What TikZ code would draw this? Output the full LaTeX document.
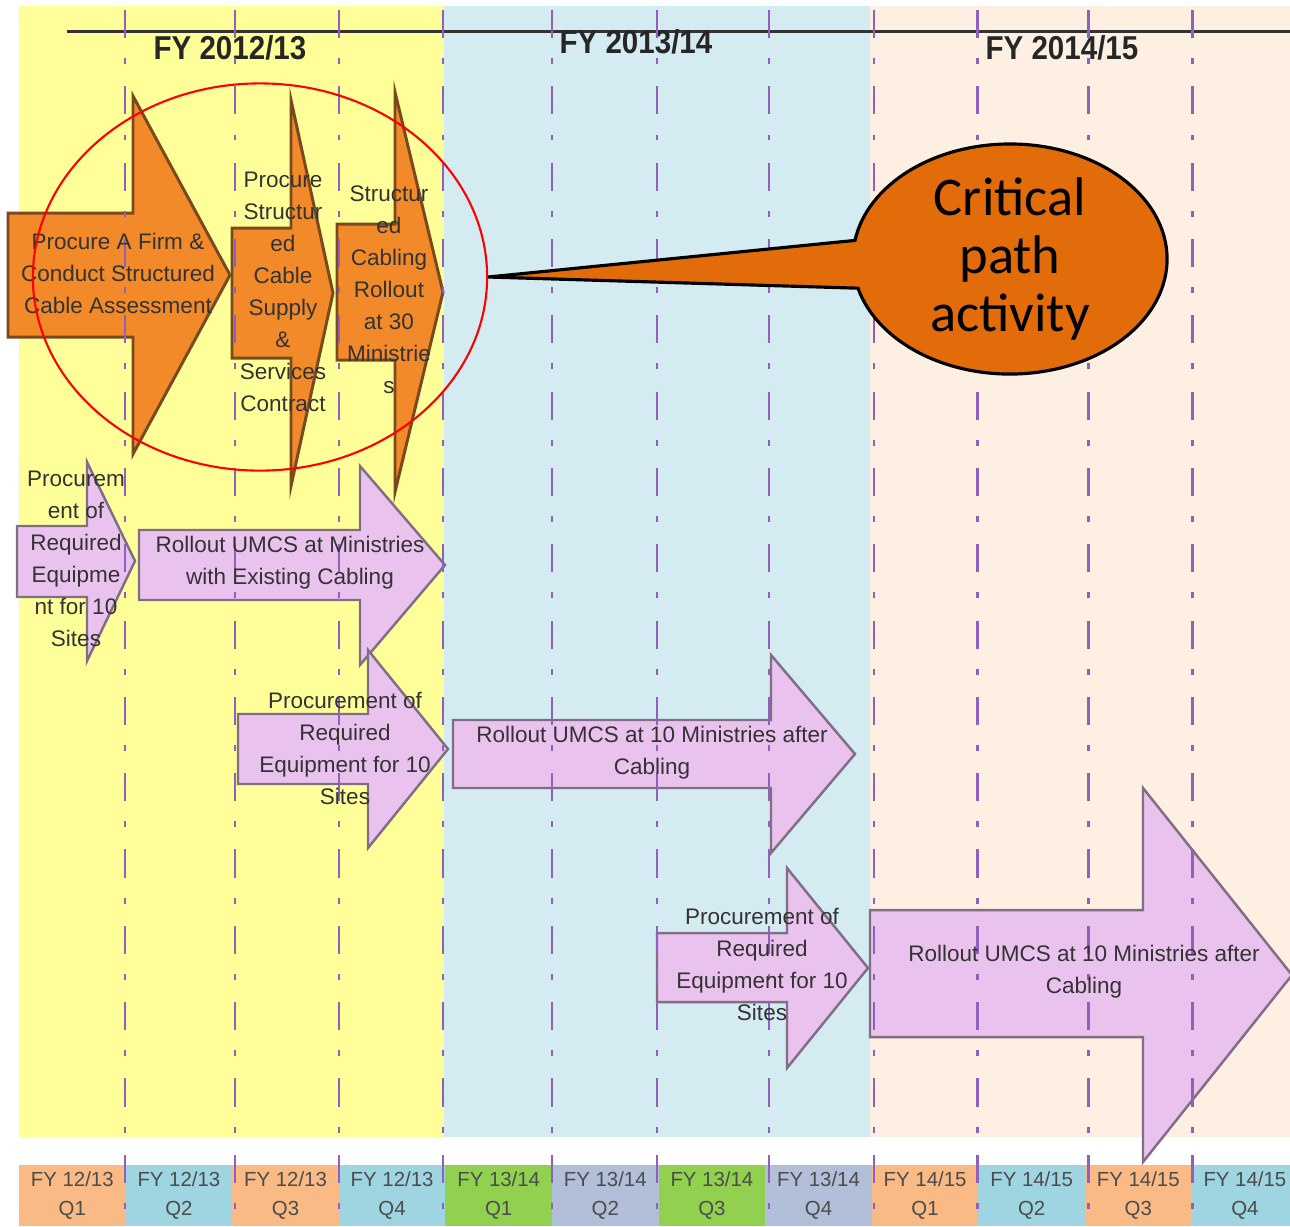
\documentclass[tikz,border=0pt]{standalone}
\usepackage{fontspec}
\setmainfont{Liberation Sans}
\newfontfamily\notefont{Carlito}
\usetikzlibrary{shapes.geometric,shapes.callouts}

\definecolor{fyyellow}{HTML}{FFFF99}
\definecolor{fyblue}{HTML}{D3EBF1}
\definecolor{fypeach}{HTML}{FDF0E3}
\definecolor{critorange}{HTML}{F28A2A}
\definecolor{critborder}{HTML}{7A4A1E}
\definecolor{noteorange}{HTML}{E36C0A}
\definecolor{umcspink}{HTML}{EAC2EE}
\definecolor{umcsborder}{HTML}{7F6E84}
\definecolor{qorange}{HTML}{F9BA85}
\definecolor{qblue}{HTML}{9FD4E1}
\definecolor{qgreen}{HTML}{92D050}
\definecolor{qgrey}{HTML}{B1BFD9}
\definecolor{qpurple}{HTML}{9160BD}
\definecolor{taskgrey}{HTML}{333333}

\tikzset{
	critarrow/.style={fill=critorange,draw=critborder,line width=0.85pt},
	umcsarrow/.style={fill=umcspink,draw=umcsborder,line width=0.7pt},
	tasktext/.style={align=center,inner sep=0pt,text=taskgrey,font=\fontsize{6.4}{9.1}\selectfont},
	fytitle/.style={inner sep=0pt,yscale=1.12,text=black!85,font=\bfseries\fontsize{8.4}{9}\selectfont},
	qbox/.style={minimum width=1.066cm,minimum height=0.61cm,inner sep=0pt,align=center,text=black!70,font=\fontsize{5.8}{8}\selectfont},
	qline/.style={draw=qpurple,line width=0.85pt,dash pattern=on 8pt off 5.7pt on 1.7pt off 6.3pt}
}

\begin{document}
\begin{tikzpicture}[x=0.01cm,y=-0.01cm]
	\useasboundingbox (0,0) rectangle (1290,1226);
	% fiscal year bands
	\fill[fyyellow] (19,6) rectangle (444,1137);
	\fill[fyblue] (444,6) rectangle (870,1137);
	\fill[fypeach] (870,6) rectangle (1290,1137);
	\draw[line width=0.85pt,black!80] (67,31) -- (1290,31);
	\node (fy12) at (230,48) [fytitle] {FY 2012/13};
	\node (fy13) at (636,42) [fytitle] {FY 2013/14};
	\node (fy14) at (1062,48) [fytitle] {FY 2014/15};

	% quarters
	\foreach \q/\col in {1/qorange,2/qblue,3/qorange,4/qblue}
		\node (qa\q) at ({19+106.6*(\q-0.5)},1195.5) [qbox,fill=\col] {FY 12/13\\Q\q};
	\foreach \q/\col in {1/qgreen,2/qgrey,3/qgreen,4/qgrey}
		\node (qb\q) at ({445.4+106.6*(\q-0.5)},1195.5) [qbox,fill=\col] {FY 13/14\\Q\q};
	\foreach \q/\col in {1/qorange,2/qblue,3/qorange,4/qblue}
		\node (qc\q) at ({871.8+106.6*(\q-0.5)},1195.5) [qbox,fill=\col] {FY 14/15\\Q\q};

	% critical path arrows
	\draw[critarrow] (8,213) -- (133,213) -- (133,96) -- (230,275) -- (133,454) -- (133,337) -- (8,337) -- cycle;
	\draw[critarrow] (232,228) -- (291,228) -- (291,100) -- (333,293) -- (291,486) -- (291,358) -- (232,358) -- cycle;
	\draw[critarrow] (337,224) -- (395,224) -- (395,92) -- (443,292) -- (395,492) -- (395,360) -- (337,360) -- cycle;

	% UMCS arrows
	\draw[umcsarrow] (17,526) -- (87,526) -- (87,462) -- (135,561) -- (87,661) -- (87,597) -- (17,597) -- cycle;
	\draw[umcsarrow] (139,530) -- (360,530) -- (360,466) -- (445,565) -- (360,665) -- (360,600) -- (139,600) -- cycle;
	\draw[umcsarrow] (238,714) -- (368,714) -- (368,650) -- (448,749) -- (368,848) -- (368,784) -- (238,784) -- cycle;
	\draw[umcsarrow] (453,720) -- (771,720) -- (771,655) -- (855,754) -- (771,853) -- (771,788) -- (453,788) -- cycle;
	\draw[umcsarrow] (657,933) -- (787,933) -- (787,868) -- (868,968) -- (787,1068) -- (787,1002) -- (657,1002) -- cycle;
	\draw[umcsarrow] (870,910) -- (1143,910) -- (1143,788) -- (1292,975) -- (1143,1162) -- (1143,1037) -- (870,1037) -- cycle;

	% quarter lines
	\foreach \x in {125,235,339,443,552,657,769,874,977,1088,1192}
		\draw[qline] (\x,10) -- (\x,1226);

	% task texts
	\node (procfirm) at (118,273) [tasktext] {Procure A Firm \&\\Conduct Structured\\Cable Assessment};
	\node (cablesupply) at (283,292) [tasktext] {Procure\\Structur\\ed\\Cable\\Supply\\\&\\Services\\Contract};
	\node (cablerollout) at (389,290) [tasktext] {Structur\\ed\\Cabling\\Rollout\\at 30\\Ministrie\\s};
	\node (equipa) at (76,559) [tasktext] {Procurem\\ent of\\Required\\Equipme\\nt for 10\\Sites};
	\node (rolloutexist) at (290,563) [tasktext] {Rollout UMCS at Ministries\\with Existing Cabling};
	\node (equipb) at (345,748) [tasktext] {Procurement of\\Required\\Equipment for 10\\Sites};
	\node (rollouta) at (652,753) [tasktext] {Rollout UMCS at 10 Ministries after\\Cabling};
	\node (equipc) at (762,964) [tasktext] {Procurement of\\Required\\Equipment for 10\\Sites};
	\node (rolloutb) at (1084,972) [tasktext] {Rollout UMCS at 10 Ministries after\\Cabling};

	% critical path marking
	\node (critpath) at (260,277) [ellipse,draw=red,line width=0.6pt,minimum width=4.54cm,minimum height=3.87cm,inner sep=0pt] {};
	\node (critnote) at (1010,259) [ellipse callout,callout absolute pointer={(critpath.east)},callout pointer arc=24,fill=noteorange,draw=black,line width=0.9pt,minimum width=3.14cm,minimum height=2.27cm,inner sep=0pt,align=center,font=\notefont\fontsize{15.5}{16.5}\selectfont] {Critical\\path\\activity};
\end{tikzpicture}
\end{document}
